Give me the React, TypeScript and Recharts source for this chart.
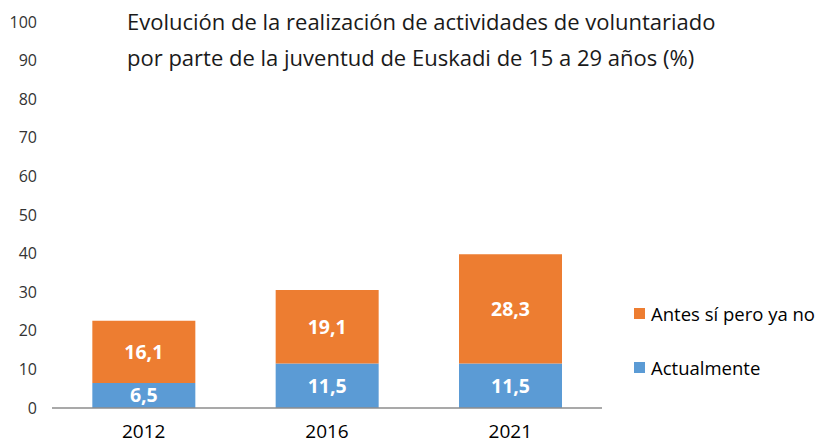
import { Bar, BarChart, LabelList, XAxis, YAxis } from 'recharts';

const WIDTH = 823;
const HEIGHT = 446;

const years = ['2012', '2016', '2021'];
const actualmente = [6.5, 11.5, 11.5];
const antes = [16.1, 19.1, 28.3];
const yTicks = [0, 10, 20, 30, 40, 50, 60, 70, 80, 90, 100];

const titleLines = [
  'Evolución de la realización de actividades de voluntariado',
  'por parte de la juventud de Euskadi de 15 a 29 años (%)',
];

const BLUE = '#5B9BD5';
const ORANGE = '#ED7D31';
const FONT = '"Open Sans", "Liberation Sans", sans-serif';

const data = years.map((year, i) => ({
  year,
  actualmente: actualmente[i],
  antes: antes[i],
}));

const legendItems = [
  { name: 'Antes sí pero ya no', color: ORANGE },
  { name: 'Actualmente', color: BLUE },
];

const fmt = (v: unknown) => (typeof v === 'number' ? v.toFixed(1).replace('.', ',') : String(v ?? ''));

export default function App() {
  return (
    <div style={{ position: 'absolute', left: 0, top: 0, width: WIDTH, height: HEIGHT, background: '#fff' }}>
      <BarChart
        width={WIDTH}
        height={HEIGHT}
        data={data}
        margin={{ top: 22, right: 221, left: 0, bottom: 0 }}
        barCategoryGap="22%"
      >
        <XAxis
          dataKey="year"
          axisLine={{ stroke: '#8c8c8c', strokeWidth: 1.5 }}
          tickLine={false}
          tickSize={0}
          tickMargin={17}
          height={38}
          tick={{ fontSize: 19, fill: '#000', fontFamily: FONT }}
        />
        <YAxis
          type="number"
          domain={[0, 100]}
          ticks={yTicks}
          width={52}
          axisLine={false}
          tickLine={false}
          tickSize={0}
          tickMargin={15}
          interval={0}
          tick={{ fontSize: 16, fill: '#333', fontFamily: FONT }}
        />
        <Bar dataKey="actualmente" name="Actualmente" stackId="a" fill={BLUE} isAnimationActive={false}>
          <LabelList
            dataKey="actualmente"
            position="center"
            formatter={fmt}
            fill="#fff"
            style={{ fontSize: 19.5, fontWeight: 'bold', fontFamily: FONT }}
          />
        </Bar>
        <Bar dataKey="antes" name="Antes sí pero ya no" stackId="a" fill={ORANGE} isAnimationActive={false}>
          <LabelList
            dataKey="antes"
            position="center"
            formatter={fmt}
            fill="#fff"
            style={{ fontSize: 19.5, fontWeight: 'bold', fontFamily: FONT }}
          />
        </Bar>
      </BarChart>
      {/* title overlay */}
      <div
        style={{
          position: 'absolute',
          left: 127,
          top: 3,
          fontFamily: FONT,
          fontSize: 22,
          lineHeight: '36px',
          color: '#1a1a1a',
          whiteSpace: 'nowrap',
        }}
      >
        {titleLines.map((l) => (
          <div key={l}>{l}</div>
        ))}
      </div>
      {/* legend, right side */}
      <div style={{ position: 'absolute', left: 634, top: 298, fontFamily: FONT, fontSize: 18.5, color: '#000' }}>
        {legendItems.map((it, i) => (
          <div key={it.name} style={{ display: 'flex', alignItems: 'center', height: 30, marginBottom: i === 0 ? 24 : 0 }}>
            <span style={{ width: 11, height: 11, background: it.color, marginRight: 6, display: 'inline-block', flexShrink: 0 }} />
            <span style={{ whiteSpace: 'nowrap' }}>{it.name}</span>
          </div>
        ))}
      </div>
    </div>
  );
}
